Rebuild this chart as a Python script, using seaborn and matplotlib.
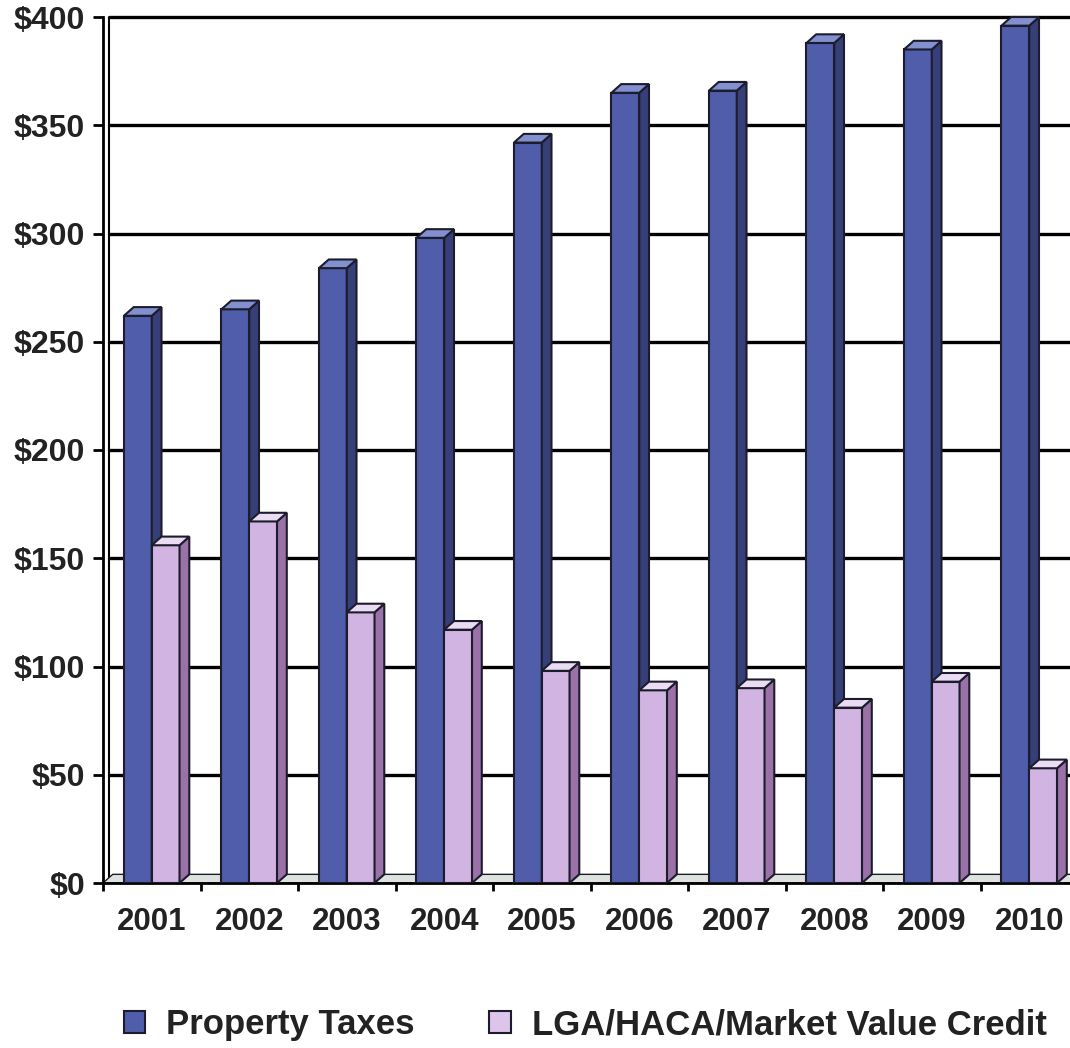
import matplotlib
matplotlib.use("Agg")
import matplotlib.pyplot as plt
import seaborn as sns
import pandas as pd
from matplotlib.patches import Polygon, Patch
from matplotlib.ticker import FixedLocator, FuncFormatter

years = ["2001", "2002", "2003", "2004", "2005", "2006", "2007", "2008", "2009", "2010"]
property_taxes = [262, 265, 284, 298, 342, 365, 366, 388, 385, 396]
lga_credit = [156, 167, 125, 117, 98, 89, 90, 81, 93, 53]
series_names = ["Property Taxes", "LGA/HACA/Market Value Credit"]
y_ticks = [0, 50, 100, 150, 200, 250, 300, 350, 400]

df = pd.DataFrame({
    "Year": years * 2,
    "Amount": property_taxes + lga_credit,
    "Series": [series_names[0]] * len(years) + [series_names[1]] * len(years),
})

# front / side / top shades for the fake 3D look
front = ["#4f5dab", "#d2b4e2"]
side = ["#363f78", "#9a72a8"]
top = ["#8390cf", "#eadcf2"]
edge = "#1c1c2c"
text_col = "#222222"

sns.set_style("white")
plt.rcParams['font.family'] = ['Liberation Sans', 'DejaVu Sans']
plt.rcParams['font.weight'] = 'bold'

fig = plt.figure(figsize=(10.70, 10.48), dpi=100)
ax = fig.add_axes([103 / 1070, 165 / 1048, 975 / 1070, 866 / 1048])

sns.barplot(data=df, x="Year", y="Amount", hue="Series", palette=front,
            width=0.57, edgecolor=edge, linewidth=1.5, saturation=1,
            legend=False, ax=ax)

ax.set_xlim(-0.5, 9.5)
ax.set_ylim(0, 400)

# depth of the 3D extrusion in data units
dx, dy = 0.1, 4.0

# floor strip
ax.add_patch(Polygon([(-0.5, 0), (-0.5 + dx, dy), (9.5 + dx, dy), (9.5, 0)],
                     closed=True, facecolor="#dfe3df", edgecolor=edge,
                     linewidth=1.0, zorder=1.5))

n = len(years)
for i, bar in enumerate(list(ax.patches)):
    if not hasattr(bar, "get_height") or bar.get_height() <= 0:
        continue
    s = i // n
    x0 = bar.get_x()
    w = bar.get_width()
    h = bar.get_height()
    z = 3 + s * 0.5
    bar.set_zorder(z)
    ax.add_patch(Polygon([(x0 + w, 0), (x0 + w + dx, dy), (x0 + w + dx, h + dy), (x0 + w, h)],
                         closed=True, facecolor=side[s], edgecolor=edge,
                         linewidth=1.5, zorder=z + 0.1))
    ax.add_patch(Polygon([(x0, h), (x0 + dx, h + dy), (x0 + w + dx, h + dy), (x0 + w, h)],
                         closed=True, facecolor=top[s], edgecolor=edge,
                         linewidth=1.5, zorder=z + 0.1, clip_on=False))

# gridlines on the back wall
for v in y_ticks[1:]:
    ax.plot([-0.5 + dx * 0.6, 9.6], [v, v], color="black", lw=2.4, zorder=1,
            clip_on=False)
ax.plot([-0.5 + dx * 0.6, -0.5 + dx * 0.6], [dy * 0.5, 400], color="black",
        lw=1.5, zorder=1)

for sp in ["top", "right"]:
    ax.spines[sp].set_visible(False)
for sp in ["left", "bottom"]:
    ax.spines[sp].set_color("black")
    ax.spines[sp].set_linewidth(2)

ax.yaxis.set_major_locator(FixedLocator(y_ticks))
ax.yaxis.set_major_formatter(FuncFormatter(lambda v, p: "${:.0f}".format(v)))
ax.tick_params(axis="y", which="major", direction="out", length=7, width=2,
               color="black", pad=6, labelsize=23, labelcolor=text_col, left=True)

ax.xaxis.set_minor_locator(FixedLocator([k - 0.5 for k in range(n + 1)]))
ax.tick_params(axis="x", which="minor", direction="out", length=6, width=2,
               color="black", bottom=True)
ax.tick_params(axis="x", which="major", length=0, pad=17, labelsize=22.5,
               labelcolor=text_col)
for lab in ax.get_xticklabels() + ax.get_yticklabels():
    lab.set_fontweight("bold")

ax.set_xlabel("")
ax.set_ylabel("")

handles = [Patch(facecolor=front[0], edgecolor=edge, linewidth=1.5),
           Patch(facecolor="#dcc4ea", edgecolor=edge, linewidth=1.5)]
fig.legend(handles, series_names, loc="center", bbox_to_anchor=(0.547, 0.022),
           ncol=2, frameon=False, handlelength=0.62, handleheight=0.62,
           handletextpad=0.6, columnspacing=2.15,
           prop={"weight": "bold", "size": 25})
for t in fig.legends[0].get_texts():
    t.set_color(text_col)

fig.savefig("out.png", dpi=100)
